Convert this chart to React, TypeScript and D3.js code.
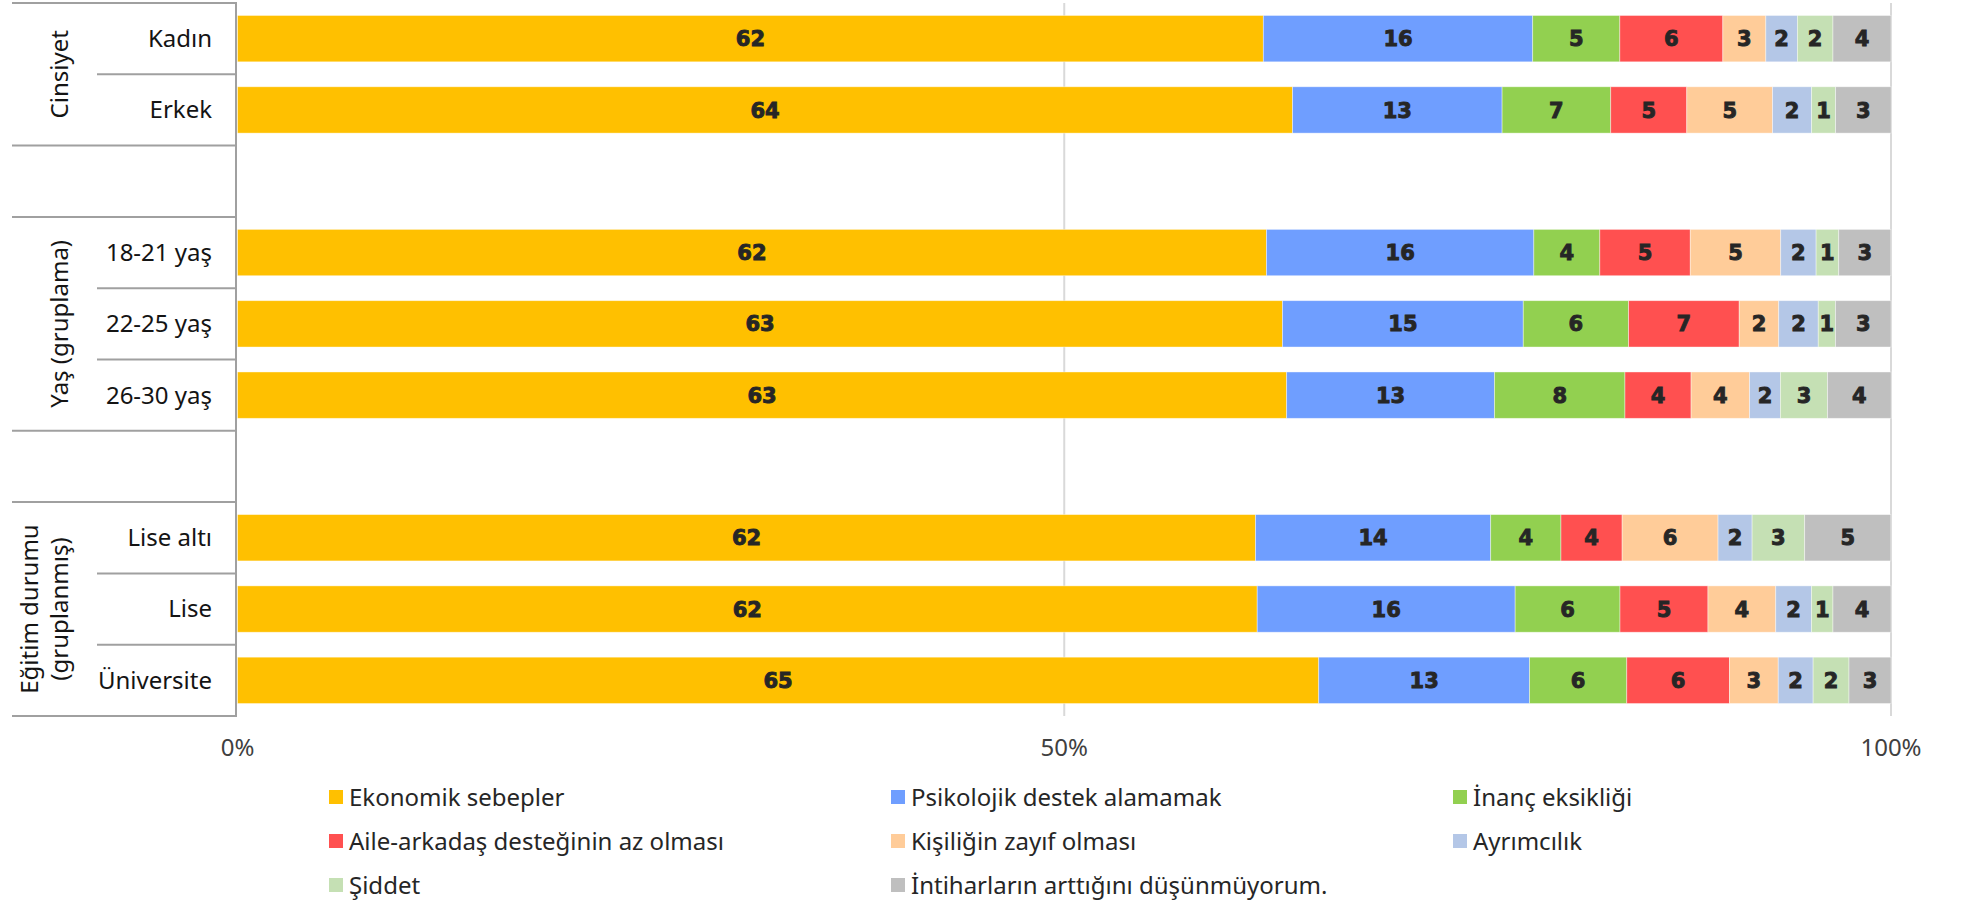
import React from "react";
import * as d3 from "d3";

const rowLabels: (string | null)[] = ["Kadın", "Erkek", null, "18-21 yaş", "22-25 yaş", "26-30 yaş", null, "Lise altı", "Lise", "Üniversite"];

const seriesNames = [
  "Ekonomik sebepler",
  "Psikolojik destek alamamak",
  "İnanç eksikliği",
  "Aile-arkadaş desteğinin az olması",
  "Kişiliğin zayıf olması",
  "Ayrımcılık",
  "Şiddet",
  "İntiharların arttığını düşünmüyorum.",
];
const seriesColors = ["#FFC000", "#6F9EFF", "#92D050", "#FF5050", "#FFCC99", "#B4C7E7", "#C5E0B4", "#BFBFBF"];

const ekonomik = [62.04, 63.81, null, 62.23, 63.2, 63.45, null, 61.57, 61.67, 65.39];
const psikolojik = [16.29, 12.67, null, 16.17, 14.56, 12.57, null, 14.22, 15.6, 12.75];
const inanc = [5.27, 6.57, null, 3.99, 6.37, 7.89, null, 4.25, 6.34, 5.88];
const aile = [6.23, 4.6, null, 5.47, 6.69, 4.0, null, 3.7, 5.32, 6.21];
const kisilik = [2.6, 5.19, null, 5.47, 2.39, 3.54, null, 5.8, 4.1, 2.95];
const ayrimcilik = [1.91, 2.36, null, 2.14, 2.39, 1.86, null, 2.06, 2.16, 2.11];
const siddet = [2.15, 1.45, null, 1.37, 1.04, 2.85, null, 3.18, 1.3, 2.17];
const dusunmuyorum = [3.51, 3.36, null, 3.15, 3.36, 3.85, null, 5.21, 3.51, 2.54];

const seriesValues = [ekonomik, psikolojik, inanc, aile, kisilik, ayrimcilik, siddet, dusunmuyorum];

const groups = [
  { lines: ["Cinsiyet"], first: 0, last: 1 },
  { lines: ["Yaş (gruplama)"], first: 3, last: 5 },
  { lines: ["Eğitim durumu", "(gruplanmış)"], first: 7, last: 9 },
];

const xTicks = [0, 50, 100];

const FONT = "'Noto Sans', sans-serif";

export default function App() {
  const W = 1964;
  const H = 905;
  const plotTop = 3;
  const plotBottom = 716;
  const x = d3.scaleLinear().domain([0, 100]).range([237.5, 1891]);
  const keys = rowLabels.map((_, i) => String(i));
  const y = d3
    .scaleBand<string>()
    .domain(keys)
    .range([plotTop, plotBottom])
    .paddingInner(0.35)
    .paddingOuter(0.175);
  const step = y.step();
  const slotTop = (i: number) => plotTop + i * step;

  const table = rowLabels.map((_, i) => {
    const o: any = { key: String(i) };
    seriesNames.forEach((s, k) => {
      o[s] = seriesValues[k][i] ?? 0;
    });
    return o;
  });
  const stacked = d3.stack<any>().keys(seriesNames)(table);

  const axisX = 236;
  const lineColor = "#A0A0A0";

  const dividers: { y: number; x1: number }[] = [];
  for (let i = 0; i <= rowLabels.length; i++) {
    const yy = slotTop(i);
    const isGroupEdge =
      i === 0 ||
      i === rowLabels.length ||
      rowLabels[i] === null ||
      rowLabels[i - 1] === null;
    dividers.push({ y: yy, x1: isGroupEdge ? 12 : 97 });
  }

  const legendCols = [329, 891, 1453];
  const legendRows = [797, 841, 885];

  return (
    <svg
      width={W}
      height={H}
      style={{ position: "absolute", left: 0, top: 0, background: "#fff" }}
      fontFamily={FONT}
    >
      <rect x={0} y={0} width={W} height={H} fill="#fff" />
      {xTicks.filter((t) => t > 0).map((t) => (
        <line key={t} x1={x(t)} x2={x(t)} y1={plotTop} y2={plotBottom} stroke="#D9D9D9" strokeWidth={2} />
      ))}
      {stacked.map((layer, k) => (
        <g key={layer.key} fill={seriesColors[k]}>
          {layer.map((d, i) =>
            rowLabels[i] === null ? null : (
              <rect
                key={i}
                x={x(d[0])}
                width={x(d[1]) - x(d[0])}
                y={y(String(i))!}
                height={y.bandwidth()}
                stroke="#ffffff"
                strokeOpacity={0.5}
                strokeWidth={0.8}
              />
            )
          )}
        </g>
      ))}
      {stacked.map((layer, k) => (
        <g key={"l" + layer.key}>
          {layer.map((d, i) =>
            rowLabels[i] === null ? null : (
              <text
                key={i}
                x={(x(d[0]) + x(d[1])) / 2}
                y={y(String(i))! + y.bandwidth() / 2}
                dy="0.36em"
                textAnchor="middle"
                fontFamily="'DejaVu Sans', sans-serif"
                fontWeight="bold"
                fontSize={21}
                fill="#262626"
                stroke="#262626"
                strokeWidth={0.9}
              >
                {Math.round(d[1] - d[0])}
              </text>
            )
          )}
        </g>
      ))}
      {dividers.map((d, i) => (
        <line key={i} x1={d.x1} x2={axisX} y1={d.y} y2={d.y} stroke={lineColor} strokeWidth={2} />
      ))}
      <line x1={axisX} x2={axisX} y1={plotTop - 1} y2={plotBottom + 1} stroke={lineColor} strokeWidth={2} />
      {rowLabels.map((lab, i) =>
        lab === null ? null : (
          <text
            key={i}
            x={212}
            y={y(String(i))! + y.bandwidth() / 2}
            dy="0.35em"
            textAnchor="end"
            fontSize={24}
            fill="#141414"
          >
            {lab}
          </text>
        )
      )}
      {groups.map((g, gi) => {
        const cy = (slotTop(g.first) + slotTop(g.last + 1)) / 2;
        const baselines = g.lines.length === 1 ? [68] : [38, 68];
        return (
          <g key={gi}>
            {g.lines.map((ln, li) => (
              <text
                key={li}
                transform={`translate(${baselines[li]},${cy}) rotate(-90)`}
                textAnchor="middle"
                fontSize={24}
                fill="#141414"
              >
                {ln}
              </text>
            ))}
          </g>
        );
      })}
      {xTicks.map((t) => (
        <text key={t} x={x(t)} y={756} textAnchor="middle" fontSize={24} fill="#404040">
          {t}%
        </text>
      ))}
      {seriesNames.map((s, k) => {
        const cx = legendCols[k % 3];
        const cy = legendRows[Math.floor(k / 3)];
        return (
          <g key={s}>
            <rect x={cx} y={cy - 7} width={14} height={14} fill={seriesColors[k]} />
            <text x={cx + 20} y={cy + 9} fontSize={24} fill="#262626">
              {s}
            </text>
          </g>
        );
      })}
    </svg>
  );
}
